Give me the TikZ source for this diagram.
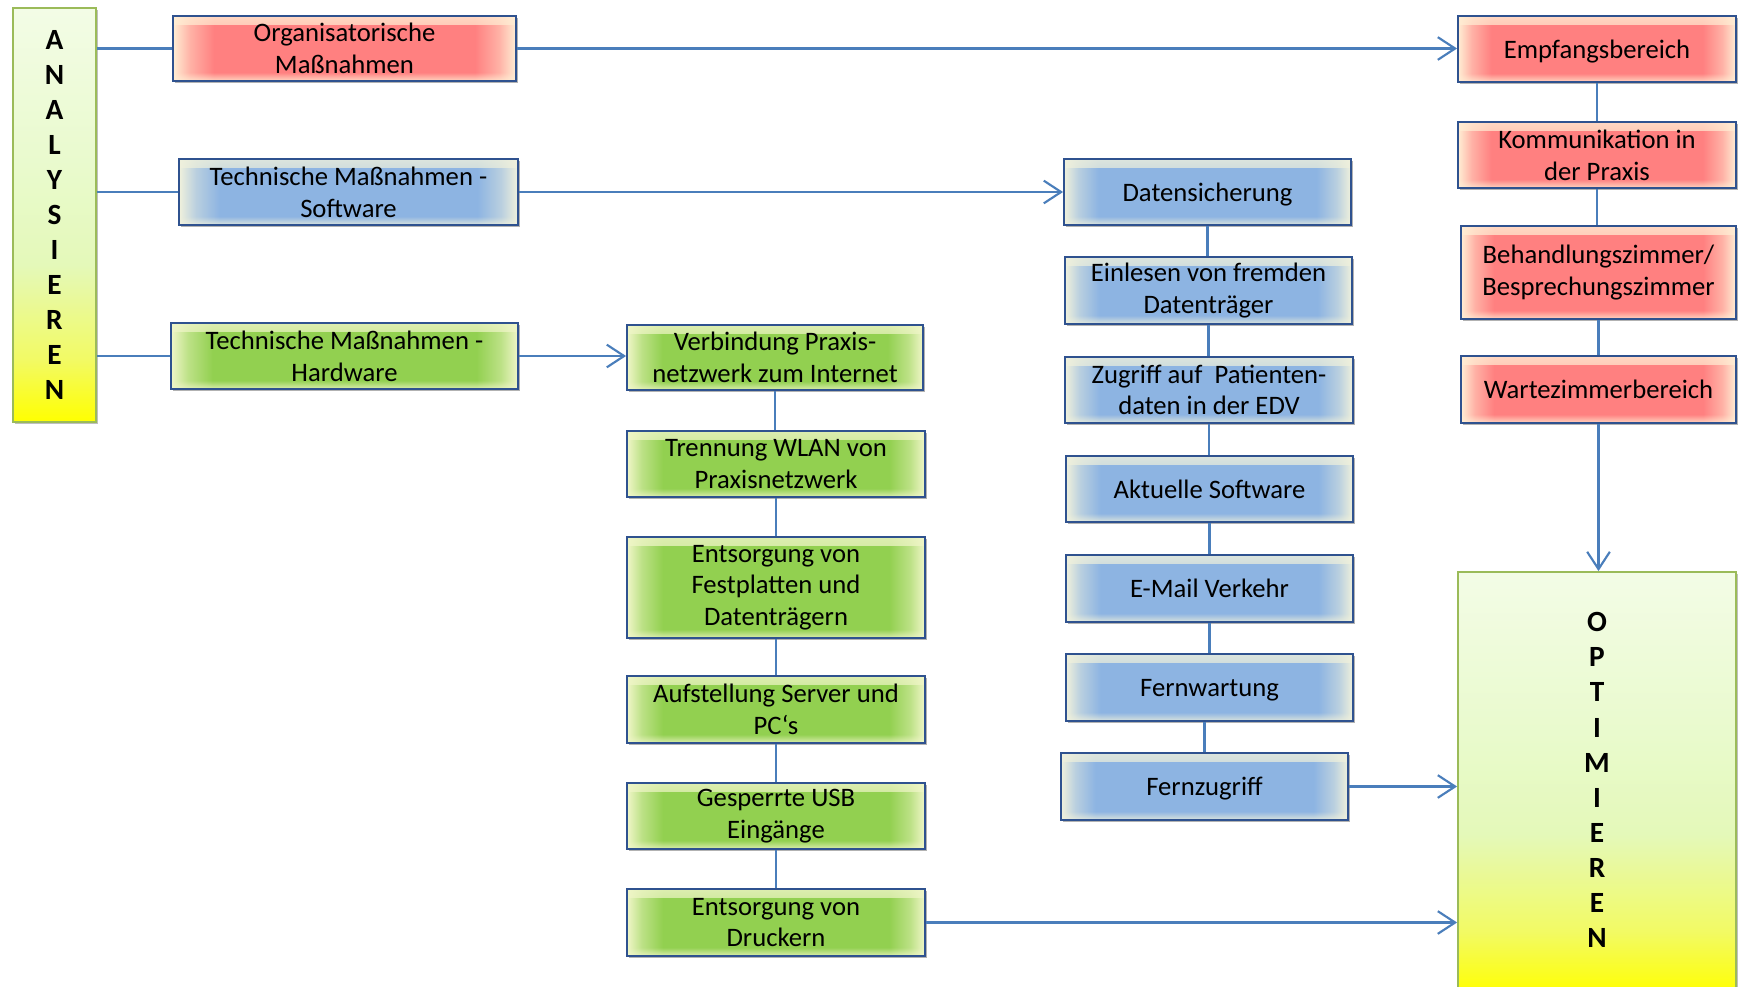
\documentclass[tikz,border=0pt]{standalone}
\usepackage{fontspec}
\setmainfont{Carlito}
\usetikzlibrary{arrows.meta,shadows,fadings}

\definecolor{redC}{RGB}{255,128,128}
\definecolor{redE}{RGB}{255,238,212}
\colorlet{redM}{redC!55!redE}
\definecolor{blueC}{RGB}{141,180,226}
\definecolor{blueE}{RGB}{240,241,220}
\colorlet{blueM}{blueC!55!blueE}
\definecolor{greenC}{RGB}{146,208,80}
\definecolor{greenE}{RGB}{240,246,200}
\colorlet{greenM}{greenC!55!greenE}
\definecolor{bordc}{RGB}{47,82,143}
\definecolor{linec}{RGB}{74,126,187}
\definecolor{anb}{RGB}{155,187,89}
\definecolor{gyA}{RGB}{255,255,0}
\definecolor{gyB}{RGB}{242,250,100}
\definecolor{gyC}{RGB}{228,249,185}
\definecolor{gyD}{RGB}{233,250,205}
\definecolor{gyE}{RGB}{243,252,230}

\tikzfading[name=bandtop, top color=transparent!0, bottom color=transparent!100]
\tikzfading[name=bandbot, top color=transparent!100, bottom color=transparent!0]

\pgfdeclarehorizontalshading{redsh}{100bp}{color(0bp)=(redE); color(25bp)=(redE); color(27.5bp)=(redM); color(31bp)=(redC); color(69bp)=(redC); color(72.5bp)=(redM); color(75bp)=(redE); color(100bp)=(redE)}
\pgfdeclarehorizontalshading{bluesh}{100bp}{color(0bp)=(blueE); color(25bp)=(blueE); color(27.5bp)=(blueM); color(31bp)=(blueC); color(69bp)=(blueC); color(72.5bp)=(blueM); color(75bp)=(blueE); color(100bp)=(blueE)}
\pgfdeclarehorizontalshading{greensh}{100bp}{color(0bp)=(greenE); color(25bp)=(greenE); color(27.5bp)=(greenM); color(31bp)=(greenC); color(69bp)=(greenC); color(72.5bp)=(greenM); color(75bp)=(greenE); color(100bp)=(greenE)}
\pgfdeclareverticalshading{gysh}{100bp}{color(0bp)=(gyA); color(25bp)=(gyA); color(32.5bp)=(gyB); color(44bp)=(gyC); color(56bp)=(gyD); color(75bp)=(gyE); color(100bp)=(gyE)}

\newcommand\vband[1]{%
 \fill[#1, fill opacity=0.8, path fading=bandtop] (path picture bounding box.north west) rectangle ([yshift=-6.5pt]path picture bounding box.north east);
 \fill[#1, fill opacity=0.8, path fading=bandbot] ([yshift=6.5pt]path picture bounding box.south west) rectangle (path picture bounding box.south east);}

\newcommand\bx[7]{\node[#6, minimum width={(#4-#2)*0.75pt}, minimum height={(#5-#3)*0.75pt}] (#1) at ({(#2+#4)/2},{(#3+#5)/2}) {#7};}

\tikzset{
 box/.style={draw=bordc, line width=1.4pt, inner sep=1pt, align=center,
   font=\fontsize{20pt}{23.8pt}\selectfont,
   drop shadow={shadow xshift=1.2pt, shadow yshift=-1.8pt, opacity=0.3, fill=black}},
 redbox/.style={box, shading=redsh, path picture={\vband{redE}}},
 bluebox/.style={box, shading=bluesh, path picture={\vband{blueE}}},
 greenbox/.style={box, shading=greensh, path picture={\vband{greenE}}},
 one/.style={text height=14pt, text depth=0pt},
 bigbox/.style={draw=anb, line width=1.4pt, shading=gysh, inner sep=0pt, align=center,
   font=\bfseries\fontsize{22pt}{26.3pt}\selectfont,
   drop shadow={shadow xshift=1.2pt, shadow yshift=-1.8pt, opacity=0.25, fill=black}},
 conn/.style={draw=linec, line width=1.6pt},
 arr/.style={conn, -{Straight Barb[length=13pt,width=17pt]}},
}

\begin{document}
\begin{tikzpicture}[x=0.75pt,y=-0.75pt]
\fill[white] (0,0) rectangle (1743,986);
\useasboundingbox (0,0) rectangle (1743,986);
\clip (0,0) rectangle (1743,986);

% big boxes
\bx{anal}{13}{8}{96}{422}{bigbox}{A\\N\\A\\L\\Y\\S\\I\\E\\R\\E\\N}
\bx{opt}{1458}{572}{1736}{995}{bigbox}{}
\node[font=\bfseries\fontsize{22pt}{26.3pt}\selectfont, align=center] (opttxt) at (1597,780) {O\\P\\T\\I\\M\\I\\E\\R\\E\\N};

% left column
\bx{org}{173}{16}{516}{81}{redbox}{Organisatorische\\Maßnahmen}
\bx{sw}{179}{159}{518}{225}{bluebox}{Technische Maßnahmen -\\Software}
\bx{hw}{171}{323}{518}{389}{greenbox}{Technische Maßnahmen -\\Hardware}

% green column
\bx{verb}{627}{325}{923}{390}{greenbox}{Verbindung Praxis-\\netzwerk zum Internet}
\bx{trenn}{627}{431}{925}{497}{greenbox}{Trennung WLAN von\\Praxisnetzwerk}
\bx{fest}{627}{537}{925}{638}{greenbox}{Entsorgung von\\Festplatten und\\Datenträgern}
\bx{aufst}{627}{676}{925}{743}{greenbox}{Aufstellung Server und\\PC‘s}
\bx{usb}{627}{783}{925}{849}{greenbox}{Gesperrte USB\\Eingänge}
\bx{druck}{627}{889}{925}{956}{greenbox}{Entsorgung von\\Druckern}

% blue column
\bx{dat}{1064}{159}{1351}{225}{bluebox,one}{Datensicherung}
\bx{einl}{1065}{257}{1352}{324}{bluebox}{Einlesen von fremden\\Datenträger}
\bx{zugr}{1065}{357}{1353}{423}{bluebox}{Zugriff auf\ \ Patienten-\\daten in der EDV}
\bx{akt}{1066}{456}{1353}{522}{bluebox,one}{Aktuelle Software}
\bx{mail}{1066}{555}{1353}{622}{bluebox,one}{E-Mail Verkehr}
\bx{fwart}{1066}{654}{1353}{721}{bluebox,one}{Fernwartung}
\bx{fzug}{1061}{753}{1348}{820}{bluebox,one}{Fernzugriff}

% red column
\bx{empf}{1458}{16}{1736}{82}{redbox,one}{Empfangsbereich}
\bx{komm}{1458}{122}{1736}{188}{redbox}{Kommunikation in\\der Praxis}
\bx{beh}{1461}{226}{1736}{319}{redbox}{Behandlungszimmer/\\Besprechungszimmer}
\bx{warte}{1461}{356}{1736}{423}{redbox,one}{Wartezimmerbereich}

% connectors from ANALYSIEREN
\draw[conn] (anal.east |- org.west) -- (org.west);
\draw[conn] (anal.east |- sw.west) -- (sw.west);
\draw[conn] (anal.east |- hw.west) -- (hw.west);

% arrows to the right
\draw[arr] (org.east) -- (org.east -| empf.west);
\draw[arr] (sw.east) -- (sw.east -| dat.west);
\draw[arr] (hw.east) -- (hw.east -| verb.west);
\draw[arr] (fzug.east) -- (fzug.east -| opt.west);
\draw[arr] (druck.east) -- (druck.east -| opt.west);
\draw[arr] (warte.south) -- (warte.south |- opt.north);

% green column links
\draw[conn] (verb.south) -- (verb.south |- trenn.north);
\draw[conn] (trenn.south) -- (trenn.south |- fest.north);
\draw[conn] (fest.south) -- (fest.south |- aufst.north);
\draw[conn] (aufst.south) -- (aufst.south |- usb.north);
\draw[conn] (usb.south) -- (usb.south |- druck.north);

% blue column links
\draw[conn] (dat.south) -- (dat.south |- einl.north);
\draw[conn] (einl.south) -- (einl.south |- zugr.north);
\draw[conn] (zugr.south) -- (zugr.south |- akt.north);
\draw[conn] (akt.south) -- (akt.south |- mail.north);
\draw[conn] (mail.south) -- (mail.south |- fwart.north);
\draw[conn] (fzug.north |- fwart.south) -- (fzug.north);

% red column links
\draw[conn] (empf.south) -- (empf.south |- komm.north);
\draw[conn] (komm.south) -- (komm.south |- beh.north);
\draw[conn] (beh.south) -- (beh.south |- warte.north);
\end{tikzpicture}
\end{document}
